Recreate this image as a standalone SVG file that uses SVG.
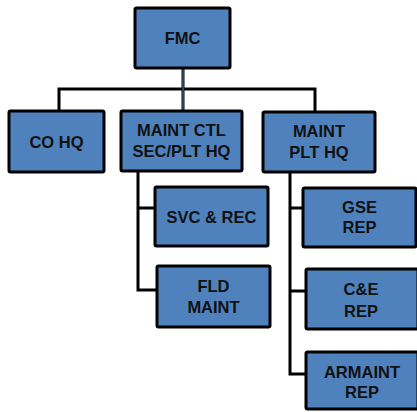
<svg xmlns="http://www.w3.org/2000/svg" width="417" height="412" viewBox="0 0 417 412">
<style>
.box{fill:#4F81BD;stroke:#000;stroke-width:3;}
.t{font-family:"Liberation Sans",Arial,sans-serif;font-weight:bold;font-size:16.5px;fill:#111;text-anchor:middle;}
.c{fill:none;stroke:#000;stroke-width:3;}
</style>
<rect width="417" height="412" fill="#fff"/>
<g id="connectors">
<path class="c" d="M59 111V89H315V112"/>
<line x1="183" y1="68" x2="183" y2="111" stroke="#000" stroke-width="3"/>
<line x1="183" y1="68" x2="183" y2="111" stroke="#4F81BD" stroke-width="1"/>
<path class="c" d="M138 171V290H157M138 208H155"/>
<path class="c" d="M290 172V374H306M290 208H303M290 291H306"/>
</g>
<g id="fmc"><rect class="box" x="135" y="8" width="95" height="60" rx="1.5"/><text class="t" x="182.5" y="43.5">FMC</text></g>
<g id="cohq"><rect class="box" x="9" y="111" width="95" height="61" rx="1.5"/><text class="t" x="56.5" y="147.5">CO HQ</text></g>
<g id="maintctl"><rect class="box" x="121" y="111" width="121" height="60" rx="1.5"/><text class="t" x="181.5" y="136">MAINT CTL</text><text class="t" x="181.5" y="157">SEC/PLT HQ</text></g>
<g id="maintplt"><rect class="box" x="263" y="112" width="112" height="60" rx="1.5"/><text class="t" x="319" y="137">MAINT</text><text class="t" x="319" y="157.5">PLT HQ</text></g>
<g id="svcrec"><rect class="box" x="155" y="187" width="113" height="59" rx="1.5"/><text class="t" x="211.5" y="222.5">SVC &amp; REC</text></g>
<g id="fldmaint"><rect class="box" x="157" y="266" width="113" height="61" rx="1.5"/><text class="t" x="213.5" y="291.5">FLD</text><text class="t" x="213.5" y="313">MAINT</text></g>
<g id="gserep"><rect class="box" x="303" y="188" width="113" height="59" rx="1.5"/><text class="t" x="359.5" y="212.5">GSE</text><text class="t" x="359.5" y="233">REP</text></g>
<g id="cerep"><rect class="box" x="306" y="269" width="112" height="60" rx="1.5"/><text class="t" x="361" y="295">C&amp;E</text><text class="t" x="361" y="316.5">REP</text></g>
<g id="armaintrep"><rect class="box" x="306" y="352" width="112" height="57" rx="1.5"/><text class="t" x="362" y="378">ARMAINT</text><text class="t" x="362" y="398">REP</text></g>
</svg>
